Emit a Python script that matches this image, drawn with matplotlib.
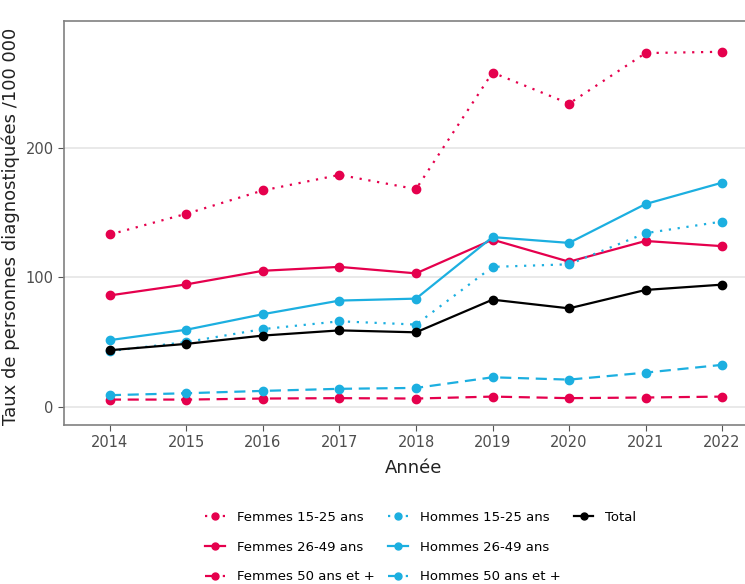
import matplotlib
matplotlib.use("Agg")
import matplotlib.pyplot as plt
from matplotlib.lines import Line2D

annees = [2014, 2015, 2016, 2017, 2018, 2019, 2020, 2021, 2022]

femmes_15_25 = [133, 149, 167, 179, 168, 258, 234, 273, 274]
femmes_26_49 = [86, 94.5, 105, 108, 103, 129, 112, 128, 124]
femmes_50 = [5.6, 5.6, 6.4, 6.7, 6.4, 7.9, 6.7, 7.2, 7.9]
hommes_15_25 = [43, 50, 60, 66, 63.5, 108, 110, 134, 143]
hommes_26_49 = [51.5, 59.5, 71.5, 82, 83.5, 131, 126.5, 156.5, 173]
hommes_50 = [9, 10.5, 12.3, 13.9, 14.6, 22.8, 21, 26.4, 32.4]
total = [43.7, 48.6, 55, 59, 57.5, 82.7, 76, 90.2, 94.3]

ROSE = "#E5004D"
BLEU = "#1CAFE0"

series = [
    ("Femmes 15-25 ans", femmes_15_25, ROSE, (0, (1, 3))),
    ("Femmes 26-49 ans", femmes_26_49, ROSE, "-"),
    ("Femmes 50 ans et +", femmes_50, ROSE, (0, (5, 3))),
    ("Hommes 15-25 ans", hommes_15_25, BLEU, (0, (1, 3))),
    ("Hommes 26-49 ans", hommes_26_49, BLEU, "-"),
    ("Hommes 50 ans et +", hommes_50, BLEU, (0, (5, 3))),
    ("Total", total, "black", "-"),
]

plt.rcParams['font.family'] = ['DejaVu Sans']

fig = plt.figure(figsize=(7.45, 5.84), dpi=100)
ax = fig.add_axes([0.0859, 0.2723, 0.945, 0.6923])

handles = []
for nom, vals, col, ls in series:
    ax.plot(annees, vals, color=col, linestyle=ls, linewidth=1.6,
            marker="o", markersize=6, zorder=3)
    handles.append(Line2D([], [], color=col, linestyle=ls, linewidth=1.6,
                          marker="o", markersize=5, label=nom))
# empty slots so that Total sits alone in the third column
vide = Line2D([], [], linestyle="none", label=" ")
handles += [vide, vide]

ax.set_xlim(2013.4, 2022.6)
ax.set_ylim(-14, 298)
ax.set_xticks(annees)
ax.set_yticks([0, 100, 200])
ax.grid(axis="y", color="#E5E5E5", linewidth=1.2, zorder=0)
ax.grid(axis="x", visible=False)
for s in ax.spines.values():
    s.set_color("#808080")
    s.set_linewidth(1.2)
ax.tick_params(colors="#4D4D4D", labelsize=10.5, length=4, color="#555555")
ax.set_xlabel("Année", fontsize=13, color="#222222")
ax.set_ylabel("Taux de personnes diagnostiquées /100 000", fontsize=13,
              color="#222222")
ax.xaxis.set_label_coords((414 - 64) / (0.945 * 745), -0.085)
ax.yaxis.set_label_coords((20 - 64) / (0.945 * 745), 0.49)

fig.legend(handles=handles, loc="center", bbox_to_anchor=(0.565, 0.063),
           ncol=3, frameon=False, fontsize=9.5, handlelength=1.5,
           columnspacing=1.0, labelspacing=1.27, handletextpad=0.9)

fig.savefig("out.png", dpi=100)
